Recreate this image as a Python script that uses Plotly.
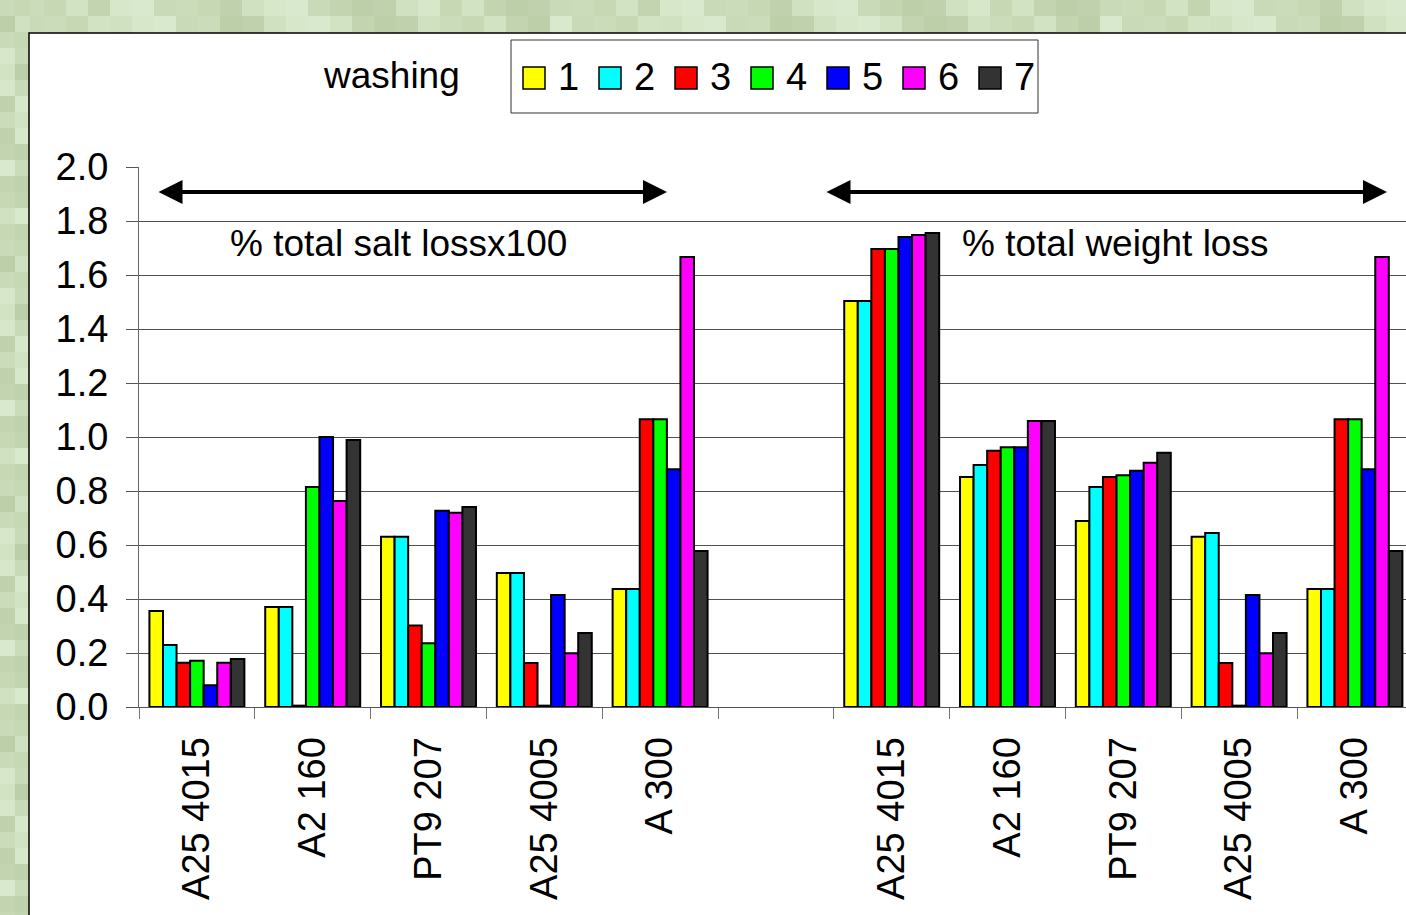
import plotly.graph_objects as go

# Sample categories (shown twice: salt loss group, then weight loss group)
categories = ["A25 4015", "A2 160", "PT9 207", "A25 4005", "A 300"]
washings = ["1", "2", "3", "4", "5", "6", "7"]
colors = ["#FFFF00", "#00FFFF", "#FF0000", "#00FF00", "#0000FF", "#FF00FF", "#333333"]

# % total salt loss x100, one list per washing (order follows categories)
salt_w1 = [0.356, 0.370, 0.631, 0.496, 0.437]
salt_w2 = [0.230, 0.370, 0.631, 0.496, 0.437]
salt_w3 = [0.164, 0.005, 0.302, 0.163, 1.066]
salt_w4 = [0.171, 0.815, 0.236, 0.005, 1.066]
salt_w5 = [0.081, 1.000, 0.727, 0.415, 0.881]
salt_w6 = [0.164, 0.763, 0.719, 0.199, 1.667]
salt_w7 = [0.178, 0.989, 0.741, 0.274, 0.578]

# % total weight loss, one list per washing
weight_w1 = [1.504, 0.852, 0.689, 0.631, 0.437]
weight_w2 = [1.504, 0.896, 0.815, 0.644, 0.437]
weight_w3 = [1.696, 0.949, 0.852, 0.163, 1.066]
weight_w4 = [1.696, 0.962, 0.858, 0.005, 1.066]
weight_w5 = [1.741, 0.962, 0.875, 0.415, 0.881]
weight_w6 = [1.748, 1.059, 0.905, 0.199, 1.667]
weight_w7 = [1.756, 1.059, 0.942, 0.274, 0.578]

salt_series = [salt_w1, salt_w2, salt_w3, salt_w4, salt_w5, salt_w6, salt_w7]
weight_series = [weight_w1, weight_w2, weight_w3, weight_w4, weight_w5, weight_w6, weight_w7]

y_ticks = [0.0, 0.2, 0.4, 0.6, 0.8, 1.0, 1.2, 1.4, 1.6, 1.8, 2.0]

# x slots: 0..4 salt, 5 left empty, 6..10 weight
left_pos = [0, 1, 2, 3, 4]
right_pos = [6, 7, 8, 9, 10]
x_pos = left_pos + right_pos
x_labels = categories + categories

W, H = 1406, 915
ML, MT, MB = 139, 167, 208
PLOT_W = W - ML
PLOT_H = H - MT - MB
SLOT = 115.8
FONT = "Liberation Sans, Arial, sans-serif"


def px_x(px):
    return (px - ML) / PLOT_W


def px_y(py):
    return (H - MB - py) / PLOT_H


fig = go.Figure()
for name, color, s, w in zip(washings, colors, salt_series, weight_series):
    fig.add_trace(go.Bar(
        x=x_pos, y=s + w, name=name,
        marker=dict(color=color, line=dict(color="black", width=2)),
        showlegend=False,
    ))

shapes = []

# mosaic-like green backdrop on the visible page border
greens = ["#c8dab8", "#d2e3c3", "#bfd2ad", "#d9e9cd", "#c6d8b4", "#bccfa8",
          "#d6e7ca", "#cbdcba", "#c2d5b0", "#d0e1c1"]
tile_w, tile_h = 22, 16
for row in range(3):
    for col in range(W // tile_w + 1):
        c = greens[(col * 7 + row * 3 + (col // 5)) % len(greens)]
        x0 = col * tile_w
        y0 = row * tile_h
        shapes.append(dict(type="rect", xref="paper", yref="paper", layer="below",
                           x0=px_x(x0), x1=px_x(x0 + tile_w),
                           y0=px_y(y0 + tile_h), y1=px_y(y0),
                           fillcolor=c, line=dict(width=0)))
for row in range(H // tile_h + 1):
    for col in range(2):
        c = greens[(row * 5 + col * 4 + (row // 3)) % len(greens)]
        x0 = col * 15
        y0 = row * tile_h
        shapes.append(dict(type="rect", xref="paper", yref="paper", layer="below",
                           x0=px_x(x0), x1=px_x(x0 + 15),
                           y0=px_y(y0 + tile_h), y1=px_y(y0),
                           fillcolor=c, line=dict(width=0)))

# white chart frame
shapes.append(dict(type="rect", xref="paper", yref="paper", layer="below",
                   x0=px_x(29), x1=px_x(W + 20), y0=px_y(H + 20), y1=px_y(33),
                   fillcolor="white", line=dict(color="black", width=1.5)))

# legend box
shapes.append(dict(type="rect", xref="paper", yref="paper",
                   x0=px_x(511), x1=px_x(1038), y0=px_y(113), y1=px_y(40),
                   fillcolor="white", line=dict(color="#333333", width=1)))

annotations = []
pitch = 76
for i, (name, color) in enumerate(zip(washings, colors)):
    mx = 523 + i * pitch
    shapes.append(dict(type="rect", xref="paper", yref="paper",
                       x0=px_x(mx), x1=px_x(mx + 22), y0=px_y(89), y1=px_y(67),
                       fillcolor=color, line=dict(color="black", width=1.5)))
    annotations.append(dict(xref="paper", yref="paper", x=px_x(mx + 33), y=px_y(77),
                            xanchor="left", yanchor="middle", text=name, showarrow=False,
                            font=dict(family=FONT, size=38, color="black")))

annotations.append(dict(xref="paper", yref="paper", x=px_x(462), y=px_y(75),
                        xanchor="right", yanchor="middle", text="washing", showarrow=False,
                        font=dict(family=FONT, size=37, color="black")))

# group captions
annotations.append(dict(xref="paper", yref="paper", x=px_x(398), y=px_y(243),
                        xanchor="center", yanchor="middle", text="% total salt lossx100",
                        showarrow=False, font=dict(family=FONT, size=37, color="black")))
annotations.append(dict(xref="paper", yref="paper", x=px_x(1115), y=px_y(243),
                        xanchor="center", yanchor="middle", text="% total weight loss",
                        showarrow=False, font=dict(family=FONT, size=37, color="black")))

# double-headed span arrows over each group
for x0p, x1p in [(157, 667), (825, 1387)]:
    xa = -0.5 + (x0p - ML) / SLOT
    xb = -0.5 + (x1p - ML) / SLOT
    yv = (H - MB - 192) / 270.0
    annotations.append(dict(xref="x", yref="y", axref="x", ayref="y",
                            x=xb, y=yv, ax=xa, ay=yv, text="", showarrow=True,
                            arrowhead=2, startarrowhead=2, arrowside="end+start",
                            arrowsize=1.2, startarrowsize=1.2, arrowwidth=4,
                            arrowcolor="black", standoff=0, startstandoff=0))

fig.update_layout(
    width=W, height=H,
    margin=dict(l=ML, r=0, t=MT, b=MB, pad=0),
    paper_bgcolor="#c8dab8",
    plot_bgcolor="rgba(0,0,0,0)",
    barmode="group", bargap=0.18, bargroupgap=0,
    shapes=shapes, annotations=annotations,
    showlegend=False,
    font=dict(family=FONT, color="black"),
)
fig.update_xaxes(
    range=[-0.5, -0.5 + PLOT_W / SLOT],
    tickmode="array", tickvals=x_pos, ticktext=x_labels,
    tickangle=-90, ticks="", ticklabelstandoff=14,
    tickfont=dict(family=FONT, size=38, color="black"),
    showgrid=False, zeroline=False,
    showline=True, linecolor="#555555", linewidth=1,
    minor=dict(tickmode="array", tickvals=[i - 0.5 for i in range(12)],
               ticks="outside", ticklen=11, tickcolor="#777777", tickwidth=1,
               showgrid=False),
)
fig.update_yaxes(
    range=[0, 2.0], tickmode="array", tickvals=y_ticks,
    ticktext=[f"{v:.1f}" for v in y_ticks],
    ticks="outside", ticklen=12, tickcolor="#555555", tickwidth=1,
    ticklabelstandoff=10,
    tickfont=dict(family=FONT, size=38, color="black"),
    showgrid=True, gridcolor="#505050", gridwidth=1,
    zeroline=False, showline=True, linecolor="#666666", linewidth=1,
)

fig.write_html("out.html")
